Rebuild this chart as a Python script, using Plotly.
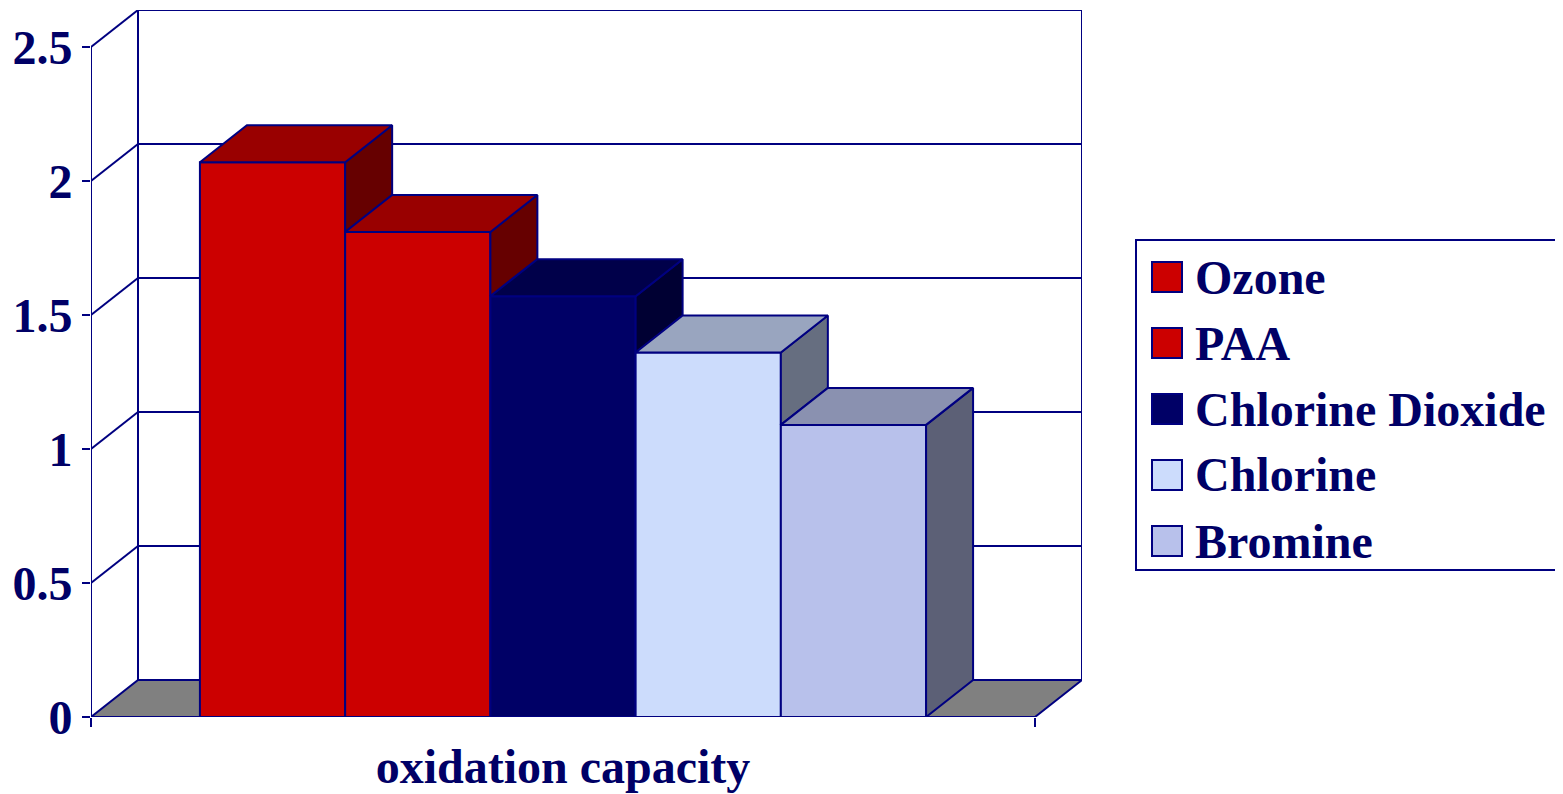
import plotly.graph_objects as go

# ---------------- data ----------------
categories = ["Ozone", "PAA", "Chlorine Dioxide", "Chlorine", "Bromine"]
values = [2.07, 1.81, 1.57, 1.36, 1.09]
y_ticks = [0, 0.5, 1, 1.5, 2, 2.5]
y_tick_labels = ["0", "0.5", "1", "1.5", "2", "2.5"]
x_category = "oxidation capacity"

# ---------------- style ----------------
front_colors = ["#CC0000", "#CC0000", "#000066", "#CCDCFC", "#B8C1EB"]
top_colors = ["#990000", "#990000", "#00004A", "#99A5BF", "#8A91B0"]
side_colors = ["#660000", "#660000", "#000033", "#666E80", "#5C6076"]
LINE = "#000080"
TEXT = "#000066"
FONT = "Liberation Serif"

OFFSET = 8                      # default page margin of the html body
W, H = 1563 - OFFSET, 794 - OFFSET
ML, MT = 91 - OFFSET, 10 - OFFSET
MR = W - (1082 - OFFSET)
MB = H - (717 - OFFSET)
PW, PH = W - ML - MR, H - MT - MB

GAP = 0.75       # gap before first / after last bar, in bar widths
BAR_W = 1.0
AXIS_LEN = 2 * GAP + BAR_W * len(values)
Y_TOP = y_ticks[-1]
DX_PX, DY_PX = 47, 37
DEPTH_X = DX_PX * AXIS_LEN / (PW - DX_PX)
DEPTH_Y = DY_PX * Y_TOP / (PH - DY_PX)


def px_x(p):
    return (p - OFFSET - ML) / PW


def px_y(p):
    return (H - MB - (p - OFFSET)) / PH


fig = go.Figure()

# front faces as bars
centers = [GAP + BAR_W * (i + 0.5) for i in range(len(values))]
for i, (name, v) in enumerate(zip(categories, values)):
    fig.add_trace(go.Bar(
        x=[centers[i]], y=[v], width=BAR_W, name=name,
        marker=dict(color=front_colors[i], line=dict(color=LINE, width=2)),
        showlegend=False, hoverinfo="skip",
    ))

# side + top faces (3D extrusion), left to right
for i, v in enumerate(values):
    l = centers[i] - BAR_W / 2
    r = centers[i] + BAR_W / 2
    nxt = values[i + 1] if i + 1 < len(values) else 0.0
    base = min(v, nxt)
    fig.add_trace(go.Scatter(
        x=[r, r, r + DEPTH_X, r + DEPTH_X, r],
        y=[base, v, v + DEPTH_Y, base + DEPTH_Y, base],
        mode="lines", fill="toself", fillcolor=side_colors[i],
        line=dict(color=LINE, width=2), showlegend=False, hoverinfo="skip",
    ))
    fig.add_trace(go.Scatter(
        x=[l, r, r + DEPTH_X, l + DEPTH_X, l],
        y=[v, v, v + DEPTH_Y, v + DEPTH_Y, v],
        mode="lines", fill="toself", fillcolor=top_colors[i],
        line=dict(color=LINE, width=2), showlegend=False, hoverinfo="skip",
    ))

shapes = []
# floor
shapes.append(dict(
    type="path", xref="x", yref="y", layer="below",
    path=f"M 0 0 L {AXIS_LEN} 0 L {AXIS_LEN + DEPTH_X} {DEPTH_Y} L {DEPTH_X} {DEPTH_Y} Z",
    fillcolor="#808080", line=dict(color=LINE, width=2),
))
# back wall gridlines and left wall diagonals
for t in y_ticks[1:]:
    shapes.append(dict(type="line", xref="x", yref="y", layer="below",
                       x0=DEPTH_X, x1=AXIS_LEN + DEPTH_X, y0=t + DEPTH_Y, y1=t + DEPTH_Y,
                       line=dict(color=LINE, width=2)))
    shapes.append(dict(type="line", xref="x", yref="y", layer="below",
                       x0=0, x1=DEPTH_X, y0=t, y1=t + DEPTH_Y,
                       line=dict(color=LINE, width=2)))
# back wall verticals
for xv in (DEPTH_X, AXIS_LEN + DEPTH_X):
    shapes.append(dict(type="line", xref="x", yref="y", layer="below",
                       x0=xv, x1=xv, y0=DEPTH_Y, y1=Y_TOP + DEPTH_Y,
                       line=dict(color=LINE, width=2)))
# front value axis line and category axis line
shapes.append(dict(type="line", xref="x", yref="y", layer="above",
                   x0=0, x1=0, y0=0, y1=Y_TOP, line=dict(color=LINE, width=2)))
shapes.append(dict(type="line", xref="x", yref="y", layer="above",
                   x0=0, x1=AXIS_LEN, y0=0, y1=0, line=dict(color=LINE, width=2)))

# custom legend (positions in reference-picture pixels)
LEG_X0, LEG_X1, LEG_Y0, LEG_Y1 = 1136, 1557, 240, 570
shapes.append(dict(type="rect", xref="paper", yref="paper",
                   x0=px_x(LEG_X0), x1=px_x(LEG_X1), y0=px_y(LEG_Y1), y1=px_y(LEG_Y0),
                   line=dict(color=LINE, width=2), fillcolor="white"))
annotations = []
ROW0, ROW_STEP, SW = 277, 66, 30
for i, name in enumerate(categories):
    cy = ROW0 + ROW_STEP * i
    shapes.append(dict(type="rect", xref="paper", yref="paper",
                       x0=px_x(1152), x1=px_x(1152 + SW),
                       y0=px_y(cy + SW / 2), y1=px_y(cy - SW / 2),
                       fillcolor=front_colors[i], line=dict(color=LINE, width=2)))
    annotations.append(dict(
        xref="paper", yref="paper", x=px_x(1193), y=px_y(cy),
        xanchor="left", yanchor="middle", showarrow=False, text=name,
        font=dict(family=FONT, size=48, color=TEXT, weight="bold"),
    ))

fig.update_layout(
    width=W, height=H,
    margin=dict(l=ML, r=MR, t=MT, b=MB, pad=0),
    paper_bgcolor="white", plot_bgcolor="white",
    barmode="overlay", showlegend=False, hovermode=False,
    shapes=shapes, annotations=annotations,
    xaxis=dict(range=[0, AXIS_LEN + DEPTH_X], showgrid=False, zeroline=False,
               showline=False, tickmode="array", tickvals=[AXIS_LEN / 2],
               ticktext=[x_category], ticks="", ticklabelstandoff=17,
               automargin=False,
               tickfont=dict(family=FONT, size=48, color=TEXT, weight="bold"),
               minor=dict(tickmode="array", tickvals=[0, AXIS_LEN], ticks="outside",
                          ticklen=9, tickwidth=2, tickcolor=LINE, showgrid=False),
               fixedrange=True),
    yaxis=dict(range=[0, Y_TOP + DEPTH_Y], showgrid=False, zeroline=False,
               showline=False, tickmode="array", tickvals=y_ticks,
               ticktext=y_tick_labels, ticks="outside", ticklen=8, tickwidth=2,
               tickcolor=LINE, ticklabelstandoff=0, automargin=False,
               tickfont=dict(family=FONT, size=48, color=TEXT, weight="bold"),
               fixedrange=True),
)

fig.write_html("out.html")
